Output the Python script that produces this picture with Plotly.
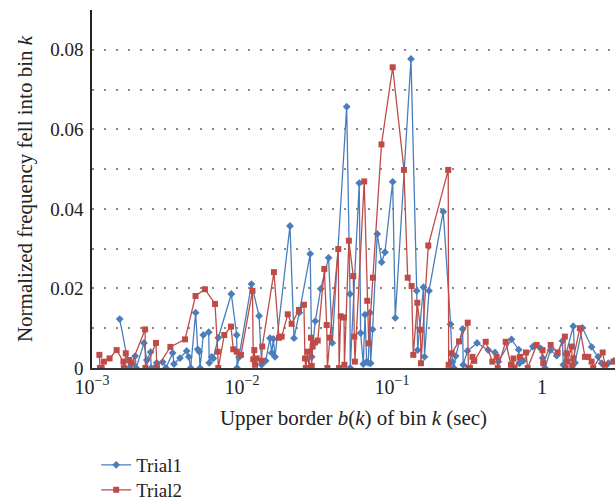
import plotly.graph_objects as go

# Trial1 (blue, diamonds)
trial1_x = [0.00153, 0.00177, 0.00184, 0.00194, 0.00197, 0.00222, 0.00232, 0.00246, 0.00248,
            0.0027, 0.00296, 0.00311, 0.00345, 0.00352, 0.00386, 0.00428, 0.00442, 0.00455,
            0.00491, 0.00507, 0.00519, 0.00525, 0.00552, 0.0060, 0.00605, 0.00628, 0.00644,
            0.00695, 0.00849, 0.00922, 0.00927, 0.00955,
            0.01157, 0.0130, 0.01352, 0.01439, 0.01537, 0.01578, 0.01618, 0.0166, 0.02089,
            0.02223, 0.0241, 0.0285, 0.02917, 0.0308, 0.0335, 0.0378, 0.0400, 0.0499,
            0.0525, 0.0527, 0.0605, 0.0618, 0.0644, 0.0661, 0.0678, 0.0695, 0.0713, 0.0721,
            0.0743, 0.0798, 0.0853, 0.0898,
            0.1011, 0.1052, 0.1339, 0.1462, 0.1483, 0.1622, 0.1648, 0.1766, 0.2197, 0.246,
            0.2523, 0.2588, 0.266, 0.2958, 0.2985, 0.3185, 0.369, 0.4385, 0.486, 0.512,
            0.626, 0.70, 0.708, 0.75, 0.871, 0.98,
            1.01, 1.047, 1.14, 1.253, 1.37, 1.387, 1.445, 1.618, 1.66, 1.858, 2.143, 2.37,
            2.5, 2.767, 3.02]
trial1_y = [0.0123, 0.0, 0.001, 0.003, 0.0, 0.0063, 0.002, 0.004, 0.0,
            0.0013, 0.0015, 0.0, 0.0038, 0.001, 0.0025, 0.0043, 0.0028, 0.0,
            0.0139, 0.0047, 0.0041, 0.0, 0.0083, 0.009, 0.0013, 0.0028, 0.0024,
            0.0076, 0.0186, 0.0083, 0.0, 0.0027,
            0.0211, 0.0131, 0.0008, 0.0018, 0.0075, 0.0038, 0.0073, 0.0028, 0.0357,
            0.0075, 0.0139, 0.0287, 0.0028, 0.0118, 0.0199, 0.0277, 0.0063, 0.0657,
            0.0186, 0.0, 0.0465, 0.0088, 0.001, 0.0134, 0.0016, 0.0013, 0.0139, 0.0012,
            0.0097, 0.0337, 0.0266, 0.0291,
            0.0468, 0.0126, 0.0777, 0.0194, 0.0045, 0.0203, 0.0028, 0.0194, 0.0393, 0.011,
            0.0016, 0.0, 0.003, 0.0098, 0.0008, 0.0043, 0.0063, 0.0045, 0.0039, 0.0016,
            0.0072, 0.0046, 0.0012, 0.0018, 0.0054, 0.0049,
            0.0025, 0.0, 0.0045, 0.0031, 0.0068, 0.0008, 0.0035, 0.0105, 0.0013, 0.0101,
            0.0053, 0.0028, 0.0012, 0.0012, 0.0018]

# Trial2 (red, squares)
trial2_x = [0.00112, 0.00113, 0.00116, 0.0012, 0.00131, 0.00146, 0.00162, 0.00163, 0.00168,
            0.00177, 0.00184, 0.00226, 0.00227, 0.00267, 0.00271, 0.00333, 0.00417, 0.0049,
            0.00566, 0.00661, 0.00689, 0.00695, 0.00762, 0.00845, 0.00875, 0.00922, 0.00984,
            0.01175, 0.01189, 0.01208, 0.01222, 0.01253, 0.01352, 0.01365, 0.01633, 0.01766,
            0.0184, 0.02018, 0.02143, 0.024, 0.02588, 0.0263, 0.0266, 0.02742, 0.028,
            0.02884, 0.02917, 0.02958, 0.03069, 0.032, 0.0354, 0.0367, 0.0371, 0.0386,
            0.04385, 0.0444, 0.0455, 0.0479, 0.0482, 0.0516, 0.0552, 0.0561, 0.0566,
            0.0653, 0.0684, 0.070, 0.0746, 0.0851,
            0.1011, 0.1202, 0.1273, 0.1352, 0.1387, 0.1476, 0.1552, 0.156, 0.1746, 0.2371,
            0.2388, 0.25, 0.28, 0.32, 0.3228, 0.331, 0.344, 0.354, 0.4217, 0.4667, 0.499,
            0.507, 0.573, 0.621, 0.646, 0.656, 0.713, 0.782, 0.803, 0.922,
            1.01, 1.02, 1.143, 1.273, 1.422, 1.439, 1.462, 1.483, 1.578, 1.592, 1.618,
            1.79, 1.935, 2.037, 2.143, 2.197, 2.54, 2.63, 3.0]
trial2_y = [0.0033, 0.0, 0.0, 0.0016, 0.0024, 0.0045, 0.0016, 0.0, 0.0037,
            0.002, 0.0012, 0.0097, 0.0, 0.0063, 0.0, 0.0053, 0.0072, 0.0181,
            0.0198, 0.0161, 0.0041, 0.0, 0.0083, 0.0104, 0.0047, 0.0041, 0.0033,
            0.0194, 0.0022, 0.0045, 0.0008, 0.0024, 0.0018, 0.0054, 0.0241, 0.0076,
            0.0079, 0.0135, 0.0111, 0.0146, 0.0159, 0.0024, 0.0, 0.0041, 0.0,
            0.0076, 0.0005, 0.0054, 0.0064, 0.0069, 0.0249, 0.0108, 0.0, 0.0076,
            0.0299, 0.0, 0.013, 0.0127, 0.0008, 0.032, 0.0231, 0.0079, 0.0016,
            0.0469, 0.0169, 0.0062, 0.0227, 0.0562,
            0.0756, 0.0498, 0.0227, 0.0206, 0.0033, 0.0164, 0.0096, 0.0012, 0.0308, 0.0498,
            0.0008, 0.0037, 0.0067, 0.0114, 0.0, 0.0, 0.0028, 0.0018, 0.0066, 0.0016, 0.0028,
            0.0, 0.0066, 0.0008, 0.0024, 0.0, 0.0028, 0.0039, 0.0, 0.0058,
            0.0045, 0.0012, 0.0058, 0.0039, 0.0079, 0.0, 0.0037, 0.0016, 0.0054, 0.0005, 0.0024,
            0.010, 0.0028, 0.0028, 0.0016, 0.0, 0.0039, 0.0008, 0.0016]

x_tickvals = [0.001, 0.01, 0.1, 1]
x_ticktext = ["10<sup>\u22123</sup>", "10<sup>\u22122</sup>", "10<sup>\u22121</sup>", "1"]
y_tickvals = [0, 0.02, 0.04, 0.06, 0.08]
y_ticktext = ["0", "0.02", "0.04", "0.06", "0.08"]
y_minor_grid = [0.01, 0.03, 0.05, 0.07, 0.09]

BLUE = "#4a7ebb"
RED = "#be4b48"
FONT = "Liberation Serif"
GRID = "#8a8a8a"

fig = go.Figure()
fig.add_trace(go.Scatter(
    x=trial1_x, y=trial1_y, mode="lines+markers", name="Trial1", legend="legend",
    line=dict(color=BLUE, width=1.3),
    marker=dict(symbol="diamond", size=6, color=BLUE),
))
fig.add_trace(go.Scatter(
    x=trial2_x, y=trial2_y, mode="lines+markers", name="Trial2", legend="legend2",
    line=dict(color=RED, width=1.3),
    marker=dict(symbol="square", size=6, color=RED),
))

legend_common = dict(xref="paper", x=0.008, xanchor="left",
                     yref="container", yanchor="middle",
                     font=dict(family=FONT, size=19), bgcolor="rgba(0,0,0,0)",
                     borderwidth=0)

fig.update_layout(
    width=615, height=502,
    margin=dict(l=92, r=0, t=10, b=134),
    paper_bgcolor="white", plot_bgcolor="white",
    font=dict(family=FONT, size=18, color="#222"),
    showlegend=True,
    legend=dict(y=1 - 465 / 502, **legend_common),
    legend2=dict(y=1 - 490 / 502, **legend_common),
    hovermode=False,
)
fig.update_xaxes(
    type="log", range=[-3, 0.487],
    tickvals=x_tickvals, ticktext=x_ticktext,
    tickfont=dict(family=FONT, size=20),
    showgrid=False, zeroline=False,
    showline=True, linecolor="#333", linewidth=1.5,
    ticks="", ticklen=0, automargin=False,
    title=dict(text="Upper border <i>b</i>(<i>k</i>) of bin <i>k</i> (sec)",
               font=dict(family=FONT, size=21), standoff=14),
)
fig.update_yaxes(
    range=[0, 0.09],
    tickvals=y_tickvals, ticktext=y_ticktext,
    tickfont=dict(family=FONT, size=19),
    ticklabelstandoff=3,
    showgrid=True, gridcolor=GRID, griddash="1.5px,10.5px", gridwidth=1.5,
    minor=dict(tickvals=y_minor_grid, showgrid=True,
               gridcolor=GRID, griddash="1.5px,10.5px", gridwidth=1.5),
    zeroline=False, automargin=False,
    showline=True, linecolor="#222", linewidth=1.5,
    ticks="",
    title=dict(text="Normalized frequency fell into bin <i>k</i>",
               font=dict(family=FONT, size=21), standoff=12),
)

fig.write_html("out.html")
